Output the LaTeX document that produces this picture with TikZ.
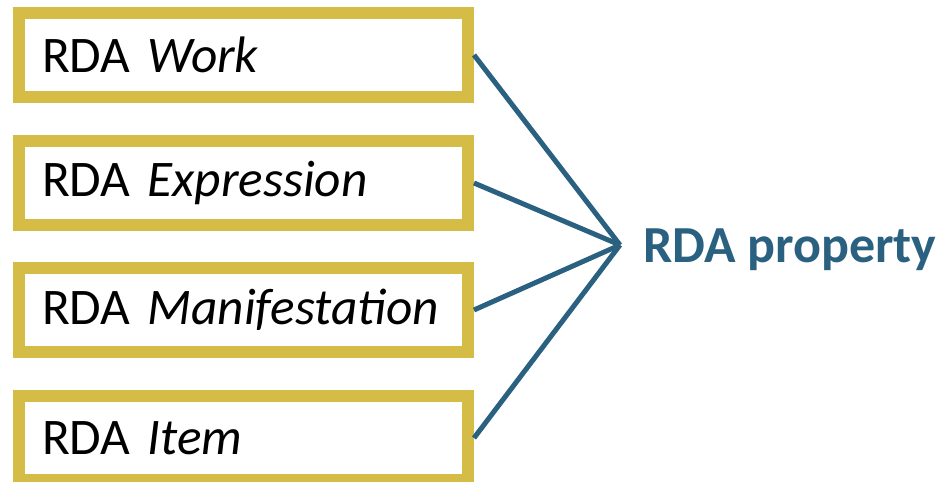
\documentclass[tikz,border=0pt]{standalone}
\usepackage{fontspec}
\setmainfont{Carlito}
\usetikzlibrary{positioning}
\definecolor{rdagold}{HTML}{D4BC46}
\definecolor{rdablue}{HTML}{2A6080}

\begin{document}
\begin{tikzpicture}[
    entity/.style={draw=rdagold, line width=0.3cm, fill=white, minimum width=11.225cm, minimum height=2.1cm,
        text width=10.075cm, inner xsep=0.575cm, align=left, font=\fontsize{36.5}{44}\selectfont},
    link/.style={draw=rdablue, line width=0.125cm},
]

\useasboundingbox (0, 0) rectangle (23.725, 12.05);

% Entity boxes
\node[entity] (work)  at (6.0875, 10.675) {RDA \textit{Work}};
\node[entity] (expr)  at (6.0875, 7.475)  {RDA \textit{Expression}};
\node[entity] (manif) at (6.0875, 4.3)    {RDA \textit{Manifestation}};
\node[entity] (item)  at (6.0875, 1.1)    {RDA \textit{Item}};

% Property
\coordinate (hub) at (15.5, 5.925);
\node[anchor=base west, inner sep=0pt, text=rdablue, font=\fontsize{37}{44}\selectfont\bfseries] (prop) at (16.075, 5.475) {RDA property};

% Links
\draw[link] (work.east) -- (hub);
\draw[link] (expr.east) -- (hub);
\draw[link] (manif.east) -- (hub);
\draw[link] (item.east) -- (hub);

\end{tikzpicture}
\end{document}
